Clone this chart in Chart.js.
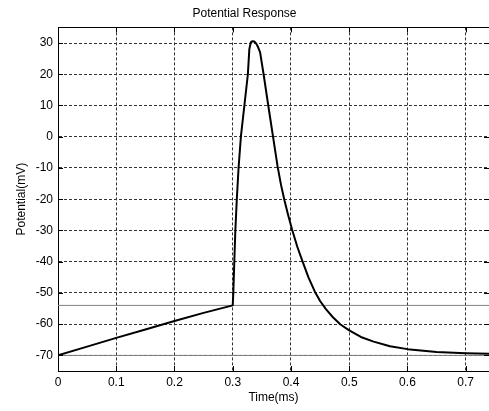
<!DOCTYPE html>
<html>
<head>
<meta charset="utf-8">
<style>
  html, body { margin: 0; padding: 0; background: #fff; }
  #c { display: block; }
</style>
<script src="https://cdn.jsdelivr.net/npm/chart.js@4"></script>
</head>
<body>
<canvas id="c" width="489" height="411"></canvas>
<script>
// ---- data ----
const timeMs = [0, 0.05, 0.1, 0.15, 0.2, 0.25, 0.3, 0.301, 0.3027, 0.3045, 0.307, 0.310, 0.314, 0.320, 0.326, 0.3285, 0.331, 0.334, 0.337, 0.340, 0.343, 0.347, 0.353, 0.361, 0.369, 0.377, 0.383, 0.389, 0.395, 0.402, 0.411, 0.420, 0.430, 0.441, 0.450, 0.460, 0.472, 0.485, 0.50, 0.52, 0.542, 0.57, 0.60, 0.65, 0.70, 0.74];
const potentialMv = [-70, -67.2, -64.4, -61.7, -59.0, -56.4, -54, -50, -40, -30, -20, -10, 0, 10, 20, 28, 30.2, 30.6, 30.5, 29.9, 28.9, 27, 20, 10, 0.3, -9.5, -15.5, -20.5, -25, -29.8, -35.3, -40, -45, -49.6, -52.6, -55.2, -57.8, -60.1, -62.0, -64.1, -65.6, -67.1, -68.0, -68.9, -69.3, -69.5];
const thresholdMv = -54;
const restingMv = -70;
const xRange = [0, 0.74];
const yRange = [-75, 35];
const xTickValues = [0, 0.1, 0.2, 0.3, 0.4, 0.5, 0.6, 0.7];
const yTickValues = [-70, -60, -50, -40, -30, -20, -10, 0, 10, 20, 30];
const titleText = 'Potential Response';
const xLabel = 'Time(ms)';
const yLabel = 'Potential(mV)';

Chart.defaults.font.family = '"Liberation Sans", Arial, sans-serif';
Chart.defaults.font.size = 12;
Chart.defaults.color = '#000';

const boxPlugin = {
  id: 'box',
  afterDraw(chart) {
    const { ctx, chartArea: a, scales: { x, y } } = chart;
    ctx.save();
    ctx.strokeStyle = '#000';
    ctx.lineWidth = 1;
    ctx.setLineDash([]);
    ctx.beginPath();
    ctx.moveTo(a.left, Math.round(a.top) + 0.5);
    ctx.lineTo(a.right, Math.round(a.top) + 0.5);
    x.ticks.forEach(t => {
      const px = Math.round(x.getPixelForValue(t.value)) + 0.5;
      ctx.moveTo(px, a.bottom); ctx.lineTo(px, a.bottom - 5);
      ctx.moveTo(px, a.top); ctx.lineTo(px, a.top + 5);
    });
    y.ticks.forEach(t => {
      const py = Math.round(y.getPixelForValue(t.value)) + 0.5;
      ctx.moveTo(a.left, py); ctx.lineTo(a.left + 5, py);
      ctx.moveTo(a.right, py); ctx.lineTo(a.right - 5, py);
    });
    ctx.stroke();
    ctx.restore();
  }
};

new Chart(document.getElementById('c'), {
  type: 'line',
  data: {
    datasets: [
      {
        data: timeMs.map((t, i) => ({ x: t, y: potentialMv[i] })),
        borderColor: '#000',
        borderWidth: 2,
        pointRadius: 0,
        fill: false,
        tension: 0,
        borderJoinStyle: 'round'
      },
      {
        data: [{ x: xRange[0], y: thresholdMv }, { x: xRange[1], y: thresholdMv }],
        borderColor: '#808080',
        borderWidth: 1,
        pointRadius: 0,
        fill: false
      },
      {
        data: [{ x: xRange[0], y: restingMv }, { x: xRange[1], y: restingMv }],
        borderColor: '#808080',
        borderWidth: 1,
        pointRadius: 0,
        fill: false
      }
    ]
  },
  options: {
    responsive: false,
    animation: false,
    devicePixelRatio: 1,
    layout: { padding: 0 },
    plugins: {
      legend: { display: false },
      tooltip: { enabled: false },
      title: {
        display: true,
        text: titleText,
        font: { size: 12, weight: 'normal' },
        color: '#000',
        padding: { top: 6, bottom: 7 }
      }
    },
    scales: {
      x: {
        type: 'linear',
        min: xRange[0],
        max: xRange[1],
        afterFit(s) { s.height = 40; },
        afterBuildTicks(s) { s.ticks = xTickValues.map(v => ({ value: v })); },
        ticks: { padding: 4, color: '#000', maxRotation: 0 },
        grid: { color: '#333', lineWidth: 1, drawTicks: false },
        border: { display: true, color: '#000', width: 1, dash: [3, 2] },
        title: { display: true, text: xLabel, color: '#000', padding: { top: 0, bottom: 6 } }
      },
      y: {
        type: 'linear',
        min: yRange[0],
        max: yRange[1],
        afterFit(s) { s.width = 58; },
        afterBuildTicks(s) { s.ticks = yTickValues.map(v => ({ value: v })); },
        ticks: { padding: 5, color: '#000' },
        grid: { color: '#333', lineWidth: 1, drawTicks: false },
        border: { display: true, color: '#000', width: 1, dash: [3, 2] },
        title: { display: true, text: yLabel, color: '#000', padding: { top: 14, bottom: 0 } }
      }
    }
  },
  plugins: [boxPlugin]
});
</script>
</body>
</html>
